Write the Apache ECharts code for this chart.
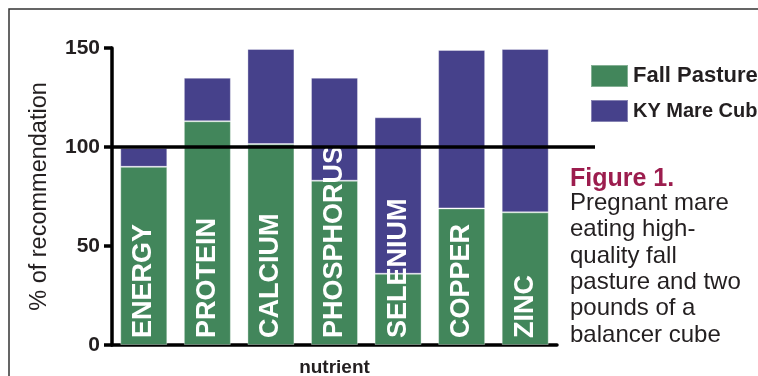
<!DOCTYPE html>
<html>
<head>
<meta charset="utf-8">
<script src="https://cdn.jsdelivr.net/npm/echarts@6/dist/echarts.min.js"></script>
<style>
  html, body { margin: 0; padding: 0; background: #fff; }
  #chart { width: 758px; height: 376px; }
</style>
</head>
<body>
<div id="chart"></div>
<script>
// nutrient categories and % of recommendation for each source
var nutrients = ['ENERGY', 'PROTEIN', 'CALCIUM', 'PHOSPHORUS', 'SELENIUM', 'COPPER', 'ZINC'];
var fallPasture = [90, 113, 101.5, 83, 36, 69, 67];
var mareCube = [9.5, 22, 48, 52, 79, 80, 82.5];
var yTicks = [0, 50, 100, 150];
var requirement = 100;

var captionTitle = 'Figure 1.';
var captionLines = ['Pregnant mare', 'eating high-', 'quality fall', 'pasture and two', 'pounds of a', 'balancer cube'];

var GREEN = '#42865b';
var BLUE = '#46418b';
var INK = '#231f20';

var chart = echarts.init(document.getElementById('chart'));

var option = {
    animation: false,
    backgroundColor: '#fff',
    grid: { left: 112, right: 201, top: 48, bottom: 31, outerBoundsMode: 'none', containLabel: false },
    legend: {
        orient: 'vertical',
        left: 585,
        top: 59,
        itemWidth: 37,
        itemHeight: 22,
        itemGap: 11,
        icon: 'rect',
        data: ['Fall Pasture', 'KY Mare Cube'],
        formatter: function(name) {
            return name === 'KY Mare Cube' ? '{n|' + name + '}' : '{w|' + name + '}';
        },
        textStyle: {
            padding: [0, 0, 0, 0],
            rich: {
                w: { fontFamily: 'Liberation Sans', fontWeight: 'bold', fontSize: 22, color: INK },
                n: { fontFamily: 'Liberation Sans', fontWeight: 'bold', fontSize: 20, color: INK }
            }
        }
    },
    xAxis: {
        type: 'category',
        data: nutrients,
        name: 'nutrient',
        nameLocation: 'middle',
        nameGap: 13,
        nameTextStyle: { fontFamily: 'Liberation Sans', fontWeight: 'bold', fontSize: 19, color: INK },
        axisLine: { lineStyle: { color: '#000', width: 3.5 } },
        axisTick: { show: false },
        axisLabel: { show: false }
    },
    yAxis: {
        type: 'value',
        min: yTicks[0],
        max: yTicks[yTicks.length - 1],
        interval: 50,
        name: '% of recommendation',
        nameLocation: 'middle',
        nameGap: 60,
        nameTextStyle: { fontFamily: 'Liberation Sans', fontSize: 23.5, color: INK },
        axisLine: { show: true, lineStyle: { color: '#000', width: 3.5 } },
        axisTick: { show: true, length: 8, lineStyle: { color: '#000', width: 3.5 } },
        axisLabel: { margin: 12, fontFamily: 'Liberation Sans', fontWeight: 'bold', fontSize: 21, color: INK },
        splitLine: { show: false }
    },
    series: [
        {
            name: 'Fall Pasture',
            type: 'bar',
            stack: 'total',
            z: 3,
            barWidth: 47,
            data: fallPasture,
            itemStyle: { color: GREEN, borderColor: 'rgba(255,255,255,0.35)', borderWidth: 1 },
            label: {
                show: true,
                position: 'insideBottom',
                rotate: 90,
                align: 'left',
                verticalAlign: 'middle',
                distance: 7,
                formatter: function(p) { return p.name; },
                fontFamily: 'Liberation Sans',
                fontWeight: 'bold',
                fontSize: 27,
                color: '#fff'
            }
        },
        {
            name: 'KY Mare Cube',
            type: 'bar',
            stack: 'total',
            barWidth: 47,
            data: mareCube,
            itemStyle: { color: BLUE, borderColor: 'rgba(255,255,255,0.35)', borderWidth: 1 }
        }
    ],
    graphic: [
        // thin page frame
        {
            id: 'frame',
            type: 'rect',
            silent: true,
            shape: { x: 9, y: 9, width: 800, height: 400 },
            style: { fill: 'none', stroke: '#333', lineWidth: 1.5 }
        },
        {
            id: 'captionTitle',
            type: 'text',
            left: 570,
            top: 167,
            style: {
                text: captionTitle,
                fontFamily: 'Liberation Sans',
                fontWeight: 'bold',
                fontSize: 25,
                fill: '#9c1d4e'
            }
        },
        {
            id: 'captionBody',
            type: 'text',
            left: 570,
            top: 190,
            style: {
                text: captionLines.join('\n'),
                fontFamily: 'Liberation Sans',
                fontSize: 24,
                lineHeight: 26.4,
                fill: INK
            }
        }
    ]
};

chart.setOption(option);

// the 100% requirement line runs past the plot towards the caption
var yReq = chart.convertToPixel({ yAxisIndex: 0 }, requirement);
var xStart = chart.convertToPixel({ xAxisIndex: 0 }, nutrients[0]) - 32;
chart.setOption({
    graphic: [{
        id: 'reqLine',
        type: 'line',
        silent: true,
        z: 10,
        shape: { x1: xStart, y1: yReq, x2: 595, y2: yReq },
        style: { stroke: '#000', lineWidth: 3.5 }
    }]
});
</script>
</body>
</html>
